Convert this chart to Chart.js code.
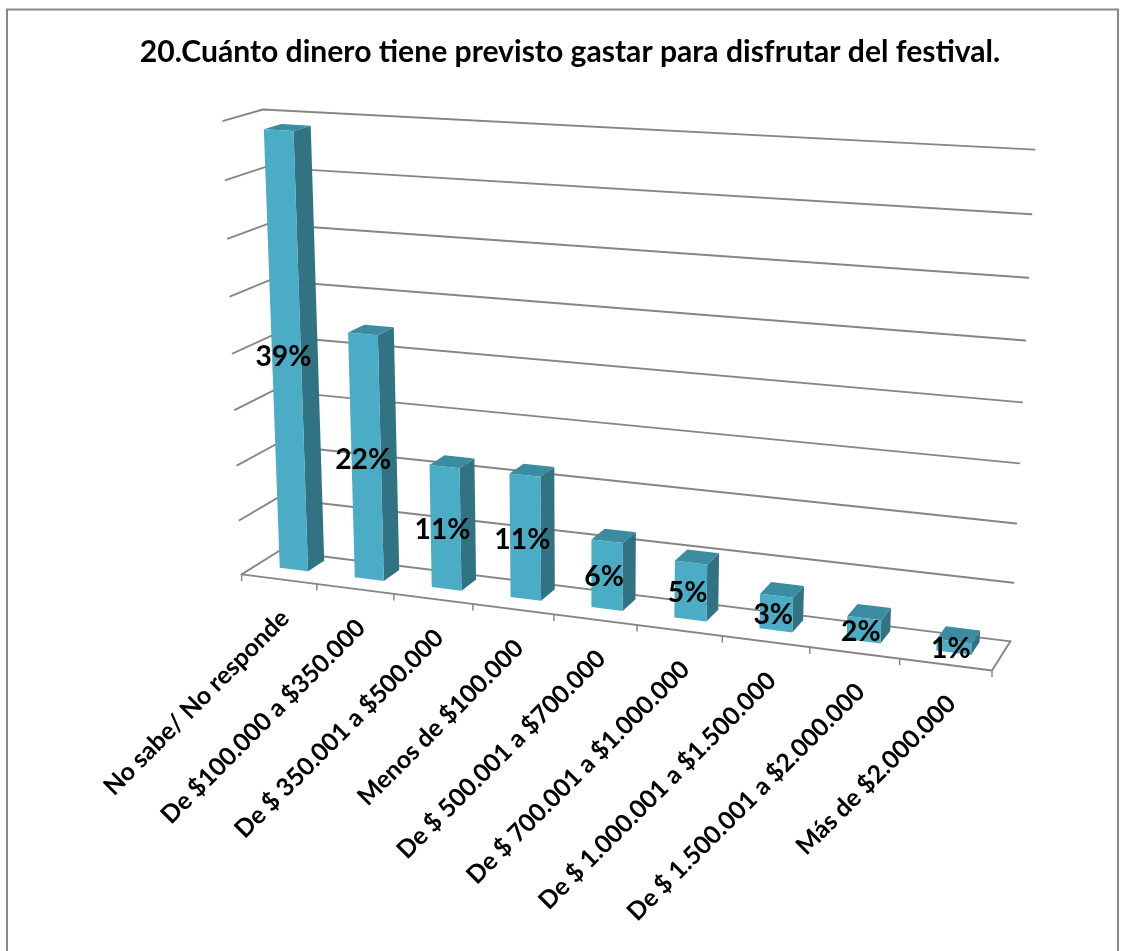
<!DOCTYPE html>
<html><head><meta charset="utf-8">
<script src="https://cdn.jsdelivr.net/npm/chart.js@4.4.1/dist/chart.umd.min.js"></script>
<style>html,body{margin:0;padding:0;background:#fff;}canvas{display:block;}</style>
</head><body>
<canvas id="c" width="1126" height="951"></canvas>
<script>
// ---------- data ----------
const TITLE = '20.Cuánto dinero tiene previsto gastar para disfrutar del festival.';
const categories = ['No sabe/ No responde','De $100.000 a $350.000','De $ 350.001 a $500.000','Menos de $100.000','De $ 500.001 a $700.000','De $ 700.001 a $1.000.000','De $ 1.000.001 a $1.500.000','De $ 1.500.001 a $2.000.000','Más de $2.000.000'];
const values = [39, 22, 11, 11, 6, 5, 3, 2, 1];
const valueLabels = ['39%','22%','11%','11%','6%','5%','3%','2%','1%'];
const axisMin = 0, axisMax = 40, axisStep = 5;

// ---------- style / layout ----------
const FONT = 'Lato';
const FRONT = '#4BACC6', SIDE = '#317283', TOP = '#3B8CA1';
const GRID = '#868686';
const BAR_Z0 = 0.40, BAR_Z1 = 0.85;
// perspective calibration of the 3D frame: [X(0..1), Y(0..1), Z(0 front..1 back), screenX, screenY]
const CAL = [
  [0,0,0,243,573],[2/9,0,0,395,593],[4/9,0,0,553,614],[7/9,0,0,810,648],[1,0,0,992,672],
  [0,0,1,277,553],[1,0,1,1011,640],[0,1,1,265,109],[1,1,1,1035,150],
  [1,0.5,1,1022,402],[1,0.25,1,1016,523],[1,0.75,1,1028,278],
  [0,1,0,221,121],[0,0.5,0,233,354]
];
function solveProjection(cal){
  const n = 11, S = 1000;
  const M = Array.from({length:n}, () => new Array(n+1).fill(0));
  const add = (r, b) => { for (let i=0;i<n;i++){ for (let j=0;j<n;j++) M[i][j] += r[i]*r[j]; M[i][n] += r[i]*b; } };
  cal.forEach(([X,Y,Z,u,v]) => {
    u /= S; v /= S;
    add([X,Y,Z,1,0,0,0,0,-u*X,-u*Y,-u*Z], u);
    add([0,0,0,0,X,Y,Z,1,-v*X,-v*Y,-v*Z], v);
  });
  for (let c=0;c<n;c++){
    let p=c; for (let r=c+1;r<n;r++) if (Math.abs(M[r][c])>Math.abs(M[p][c])) p=r;
    [M[c],M[p]]=[M[p],M[c]];
    for (let r=0;r<n;r++){ if (r===c) continue; const f=M[r][c]/M[c][c]; for (let k=c;k<=n;k++) M[r][k]-=f*M[c][k]; }
  }
  const p = M.map((row,i)=>row[n]/row[i]);
  return (X,Y,Z) => { const w = p[8]*X+p[9]*Y+p[10]*Z+1; return [S*(p[0]*X+p[1]*Y+p[2]*Z+p[3])/w, S*(p[4]*X+p[5]*Y+p[6]*Z+p[7])/w]; };
}
const P = solveProjection(CAL);

// font fitting helpers
const mctx = document.createElement('canvas').getContext('2d');
function widthAt(text, size){ mctx.font = 'bold ' + size + 'px ' + FONT; return mctx.measureText(text).width; }
const titleSize = Math.round(862 / widthAt(TITLE, 100) * 100 * 10) / 10;
const catSize = Math.round(((255 / widthAt(categories[0],100)) + (318 / widthAt(categories[6],100))) / 2 * 100 * 10) / 10;
const valSize = Math.round(56 / widthAt('39%',100) * 100 * 10) / 10;

function poly(ctx, pts, fill){ ctx.beginPath(); ctx.moveTo(pts[0][0],pts[0][1]); for (let i=1;i<pts.length;i++) ctx.lineTo(pts[i][0],pts[i][1]); ctx.closePath(); ctx.fillStyle=fill; ctx.fill(); }
function path(ctx, pts){ ctx.beginPath(); ctx.moveTo(pts[0][0],pts[0][1]); for (let i=1;i<pts.length;i++) ctx.lineTo(pts[i][0],pts[i][1]); ctx.stroke(); }

const persp = {
  id: 'persp',
  beforeDraw(chart){
    const ctx = chart.ctx; ctx.save();
    ctx.strokeStyle = '#888888'; ctx.lineWidth = 2;
    ctx.strokeRect(7, 9.5, 1111, 1000);
    ctx.restore();
  },
  beforeDatasetsDraw(chart){
    const ctx = chart.ctx, xs = chart.scales.x, ys = chart.scales.y;
    const nx = px => (px - xs.left) / xs.width;
    const ny = py => (ys.bottom - py) / ys.height;
    ctx.save();
    ctx.lineCap = 'round'; ctx.lineJoin = 'round';
    ctx.strokeStyle = GRID; ctx.lineWidth = 1.9;
    // walls gridlines (left wall + back wall)
    ys.ticks.forEach(t => {
      const v = ny(ys.getPixelForValue(t.value));
      path(ctx, [P(0,v,0), P(0,v,1), P(1,v,1)]);
    });
    // floor front and right edges
    path(ctx, [P(0,0,0), P(1,0,0), P(1,0,1)]);
    // category tick marks on the front edge
    const half = (xs.getPixelForValue(1) - xs.getPixelForValue(0)) / 2;
    const bounds = categories.map((c,i) => nx(xs.getPixelForValue(i) - half));
    bounds.push(nx(xs.getPixelForValue(categories.length-1) + half));
    ctx.lineWidth = 1.5;
    bounds.forEach(b => { const q = P(b,0,0); path(ctx, [q, [q[0], q[1]+6]]); });
    // 3D bars
    const meta = chart.getDatasetMeta(0);
    meta.data.forEach(bar => {
      const p = bar.getProps(['x','y','base','width'], true);
      const x0 = nx(p.x - p.width/2), x1 = nx(p.x + p.width/2), y0 = ny(p.base), y1 = ny(p.y);
      const z0 = BAR_Z0, z1 = BAR_Z1;
      poly(ctx, [P(x1,y0,z0), P(x1,y0,z1), P(x1,y1,z1), P(x1,y1,z0)], SIDE);
      poly(ctx, [P(x0,y1,z0), P(x1,y1,z0), P(x1,y1,z1), P(x0,y1,z1)], TOP);
      poly(ctx, [P(x0,y0,z0), P(x1,y0,z0), P(x1,y1,z0), P(x0,y1,z0)], FRONT);
    });
    ctx.restore();
    return false;
  },
  afterDraw(chart){
    const ctx = chart.ctx, xs = chart.scales.x, ys = chart.scales.y;
    const nx = px => (px - xs.left) / xs.width;
    const ny = py => (ys.bottom - py) / ys.height;
    ctx.save();
    ctx.fillStyle = '#000';
    // value labels
    ctx.font = 'bold ' + valSize + 'px ' + FONT;
    ctx.textAlign = 'center'; ctx.textBaseline = 'middle';
    const meta = chart.getDatasetMeta(0);
    meta.data.forEach((bar,i) => {
      const p = bar.getProps(['x','y','base'], true);
      const q = P(nx(p.x), (ny(p.y)+ny(p.base))/2, BAR_Z0);
      ctx.fillText(valueLabels[i], q[0] - 3, q[1] + 2);
    });
    // category labels (rotated 45deg along the sloped floor edge)
    ctx.font = 'bold ' + catSize + 'px ' + FONT;
    ctx.textAlign = 'right'; ctx.textBaseline = 'middle';
    categories.forEach((c,i) => {
      const q = P(nx(xs.getPixelForValue(i)), 0, 0);
      ctx.save();
      ctx.translate(q[0] + 6, q[1] + 35);
      ctx.rotate(-Math.PI/4);
      ctx.fillText(c, 0, 0);
      ctx.restore();
    });
    ctx.restore();
  }
};

Chart.defaults.font.family = FONT;
new Chart(document.getElementById('c'), {
  type: 'bar',
  data: { labels: categories, datasets: [{ data: values, backgroundColor: FRONT, categoryPercentage: 1, barPercentage: 0.38 }] },
  options: {
    responsive: false, animation: false,
    layout: { padding: { left: 40, right: 26, top: 10, bottom: 300 } },
    plugins: {
      legend: { display: false }, tooltip: { enabled: false },
      title: { display: true, text: TITLE, color: '#000', align: 'center',
               font: { size: titleSize, weight: 'bold', family: FONT, lineHeight: 1.2 },
               padding: { top: 52 - 10 - titleSize*0.6, bottom: 20 } }
    },
    scales: {
      x: { display: false },
      y: { display: true, min: axisMin, max: axisMax, ticks: { stepSize: axisStep, display: false }, grid: { display: false }, border: { display: false } }
    }
  },
  plugins: [persp]
});
</script>
</body></html>
